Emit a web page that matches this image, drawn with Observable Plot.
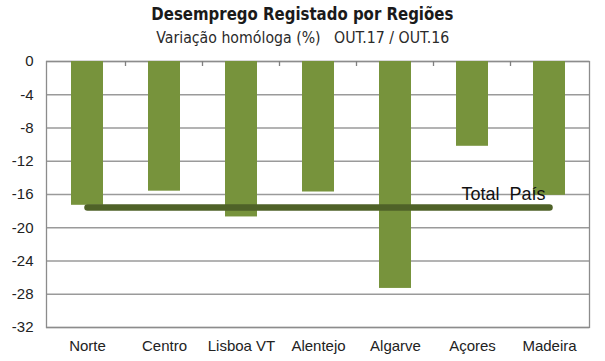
<!DOCTYPE html>
<html>
<head>
<meta charset="utf-8">
<script src="https://cdn.jsdelivr.net/npm/d3@7"></script>
<script src="https://cdn.jsdelivr.net/npm/@observablehq/plot@0.6"></script>
<style>
  html, body { margin: 0; padding: 0; background: #fff; }
  #wrap { width: 605px; height: 361px; position: relative; overflow: hidden; }
  #header { position: relative; width: 605px; height: 52px; }
  .ttl { position: absolute; left: 0; width: 605px; text-align: center; white-space: pre; font-family: "DejaVu Sans Condensed", "DejaVu Sans", sans-serif; }
  #title { top: 6px; font-size: 17px; line-height: 17px; font-weight: bold; color: #1a1a1a; }
  #subtitle { top: 31px; font-size: 15px; line-height: 15px; color: #2a2a2a; }
  .ttl span { display: inline-block; transform-origin: center; }
</style>
</head>
<body>
<div id="wrap">
  <div id="header">
    <div class="ttl" id="title"><span>Desemprego Registado por Regiões</span></div>
    <div class="ttl" id="subtitle"><span>Variação homóloga (%)   OUT.17 / OUT.16</span></div>
  </div>
  <div id="chart"></div>
</div>
<script>
const regions = ["Norte", "Centro", "Lisboa VT", "Alentejo", "Algarve", "Açores", "Madeira"];
const variation = [-17.3, -15.6, -18.7, -15.7, -27.3, -10.2, -16.1];
const totalPais = -17.55;
const totalLabel = "Total  País";
const yTicks = [0, -4, -8, -12, -16, -20, -24, -28, -32];

// fit the condensed title fonts to the reference widths
function fit(id, target) {
  const span = document.querySelector("#" + id + " span");
  const w = span.getBoundingClientRect().width;
  if (w > 0) span.style.transform = `scaleX(${target / w})`;
}
fit("title", 302);
fit("subtitle", 293);

const data = regions.map((r, i) => ({region: r, value: variation[i]}));

// small category separator ticks hanging from the top (zero) line
const separators = (index, scales) => {
  const g = d3.create("svg:g");
  const x = scales.x, y = scales.y;
  const bw = typeof x.bandwidth === "function" ? x.bandwidth() : 0;
  const y0 = y(0);
  for (let i = 1; i < regions.length; i++) {
    const xm = (x(regions[i - 1]) + x(regions[i])) / 2 + bw / 2;
    g.append("line")
      .attr("x1", xm).attr("x2", xm)
      .attr("y1", y0).attr("y2", y0 + 5)
      .attr("stroke", "#808080").attr("stroke-width", 1.3);
  }
  return g.node();
};

const chart = Plot.plot({
  width: 605,
  height: 309,
  marginTop: 9,
  marginBottom: 34,
  marginLeft: 46,
  marginRight: 16,
  style: {fontFamily: "'Liberation Sans', Arial, sans-serif", fontSize: "15px", color: "#222", background: "#fff"},
  x: {domain: regions, paddingInner: 0.59, paddingOuter: 0.295, align: 0.5, label: null, tickSize: 0, tickPadding: 13},
  y: {domain: [-32, 0], ticks: yTicks, tickFormat: d => String(d), label: null, tickSize: 0, tickPadding: 13},
  marks: [
    Plot.gridY(yTicks, {stroke: "#9a9a9a", strokeOpacity: 1, strokeWidth: 1.3}),
    Plot.frame({stroke: "#8c8c8c", strokeWidth: 1.3}),
    separators,
    Plot.barY(data, {x: "region", y: "value", fill: "#77933c"}),
    Plot.line([{x: regions[0], y: totalPais}, {x: regions[regions.length - 1], y: totalPais}],
      {x: "x", y: "y", stroke: "#4f6228", strokeWidth: 6.5, strokeLinecap: "round"}),
    Plot.text([{x: "Açores", y: totalPais}],
      {x: "x", y: "y", text: () => totalLabel, dx: 31, dy: -13, fontSize: 18, fill: "#111", textAnchor: "middle"})
  ]
});
document.getElementById("chart").appendChild(chart);
</script>
</body>
</html>
